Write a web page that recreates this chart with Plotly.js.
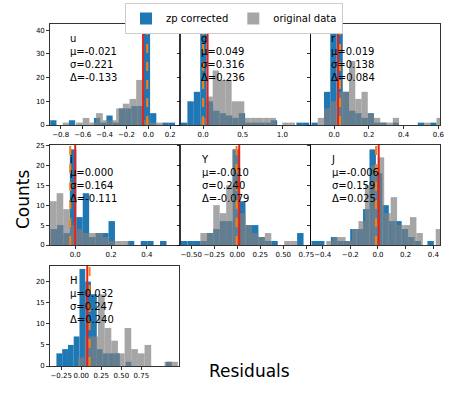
<!DOCTYPE html>
<html>
<head>
<meta charset="utf-8">
<script src="https://cdn.plot.ly/plotly-3.0.1.min.js"></script>
<style>
  body { margin: 0; background: #fff; }
  #plot { width: 449px; height: 399px; }
</style>
</head>
<body>
<div id="plot"></div>
<script>
// band labels and stats printed in each panel
const bands = ['u', 'g', 'r', 'i', 'Y', 'J', 'H'];
const mu    = ['-0.021', '0.049', '0.019', '0.000', '-0.010', '-0.006', '0.032'];
const sigma = ['0.221', '0.316', '0.138', '0.164', '0.240', '0.159', '0.247'];
const delta = ['-0.133', '0.236', '0.084', '-0.111', '-0.079', '0.025', '0.240'];

// histograms: [first bin edge, bin width, counts...]
const uZp   = [-0.896, 0.057, [2,0,0,2,0,0,0,3,1,4,1,7,7,8,8,40,5,0,1,1]];
const uOrig = [-0.782, 0.061, [1,0,1,3,1,5,2,2,7,9,11,19,2,1,1]];
const gZp   = [-0.28, 0.081, [1,10,14,41,10,6,5,4,3,5,1,1,1,1,2,0,0,0,1,1]];
const gOrig = [-0.04, 0.08, [3,12,23,19,19,10,10,3,3,3,3,3,0,1,1]];
const rZp   = [-0.13, 0.036, [1,0,14,39,40,14,6,5,3,5,1,1,0,1,0,0,0,1,0,1]];
const rOrig = [-0.094, 0.036, [3,7,10,14,14,27,11,14,5,3,1,1,3,0,0,0,0,1,0,3]];
const iZp   = [-0.138, 0.036, [4,5,3,24,7,13,2,3,3,6,0,0,1,0,1,1,0,1]];
const iOrig = [-0.141, 0.037, [11,13,9,5,4,3,3,3,2,1,1,1]];
const YZp   = [-0.61, 0.07, [1,1,1,1,3,4,6,6,24,11,5,5,2,1,1,0,0,0,3]];
const YOrig = [-0.4, 0.07, [3,3,10,8,15,24,8,5,3,2,3,0,0,1,1]];
const JZp   = [-0.48, 0.0465, [1,1,0,2,1,1,4,4,9,24,18,10,6,6,4,2,1,0,1]];
const JOrig = [-0.42, 0.0465, [0,1,2,2,1,4,6,15,20,22,8,12,5,5,7,3,0,0,4]];
const HZp   = [-0.31, 0.072, [3,4,5,7,23,20,17,4,3,3,3,0,1,0,0,0,0,0,0,1]];
const HOrig = [-0.04, 0.083, [2,7,7,17,9,6,3,9,4,3,5,0,0,1,1]];

// vertical marker lines (solid red, dashed orange)
const redLine    = [-0.048, 0.056, 0.023, 0.0, 0.022, 0.005, 0.075];
const orangeLine = [-0.01, 0.0, 0.034, -0.028, -0.007, -0.014, 0.104];

const zpSets = [uZp, gZp, rZp, iZp, YZp, JZp, HZp];
const origSets = [uOrig, gOrig, rOrig, iOrig, YOrig, JOrig, HOrig];

// layout of the grid, in pixels
const W = 449, H = 399;
const cols = [[50, 179], [181, 310], [311, 440]];
const rows = [[24, 125], [145, 245], [266, 366]];
const grid = [[0,0],[0,1],[0,2],[1,0],[1,1],[1,2],[2,0]];
const xRanges = [[-0.898,0.28],[-0.28,1.35],[-0.133,0.61],[-0.141,0.58],[-0.61,0.79],[-0.484,0.448],[-0.39,1.22]];
const xTicks = [
  [-0.8,-0.6,-0.4,-0.2,0,0.2], [0,0.5,1.0], [0,0.2,0.4,0.6],
  [0,0.2,0.4], [-0.5,-0.25,0,0.25,0.5,0.75], [-0.4,-0.2,0,0.2,0.4],
  [-0.25,0,0.25,0.5,0.75]
];
const xFmt = ['.1f','.1f','.1f','.1f','.2f','.1f','.2f'];
const yMax = [42.6, 25.1, 23.7];
const yTicks = [[0,10,20,30,40],[0,5,10,15,20,25],[0,5,10,15,20]];

function bars(set, k, color, name) {
  const [start, w, counts] = set;
  return {
    type: 'bar',
    x: counts.map((_, j) => start + w * (j + 0.5)),
    y: counts,
    width: w,
    marker: {color: color, line: {width: 0}},
    name: name,
    legendgroup: name,
    showlegend: k === 0,
    xaxis: 'x' + (k ? k + 1 : ''),
    yaxis: 'y' + (k ? k + 1 : ''),
    hoverinfo: 'skip'
  };
}

const data = [];
const layout = {
  width: W, height: H,
  margin: {l: 0, r: 0, t: 0, b: 0},
  paper_bgcolor: '#fff', plot_bgcolor: '#fff',
  barmode: 'overlay',
  font: {family: 'DejaVu Sans', size: 10, color: '#000'},
  legend: {
    orientation: 'h', x: 234 / W, xanchor: 'center', y: 1 - 3 / H, yanchor: 'top',
    bordercolor: '#cccccc', borderwidth: 1, font: {size: 10}, traceorder: 'normal'
  },
  shapes: [],
  annotations: []
};

bands.forEach((b, k) => {
  data.push(bars(zpSets[k], k, '#1f77b4', 'zp corrected'));
  data.push(bars(origSets[k], k, 'rgba(128,128,128,0.7)', 'original data'));

  const [r, c] = grid[k];
  const sfx = k ? k + 1 : '';
  const axBase = {
    showline: true, mirror: true, linecolor: '#000', linewidth: 0.8,
    showgrid: false, zeroline: false,
    ticks: 'outside', ticklen: 3, tickwidth: 0.8, tickcolor: '#000',
    tickfont: {size: 7, color: '#000'}, tickangle: 0
  };
  layout['xaxis' + sfx] = Object.assign({}, axBase, {
    domain: [cols[c][0] / W, cols[c][1] / W],
    range: xRanges[k], tickmode: 'array', tickvals: xTicks[k], tickformat: xFmt[k],
    anchor: 'y' + sfx
  });
  layout['yaxis' + sfx] = Object.assign({}, axBase, {
    domain: [1 - rows[r][1] / H, 1 - rows[r][0] / H],
    range: [0, yMax[r]], tickmode: 'array', tickvals: yTicks[r],
    showticklabels: c === 0,
    anchor: 'x' + sfx
  });

  layout.shapes.push({
    type: 'line', xref: 'x' + sfx, yref: 'y' + sfx + ' domain',
    x0: redLine[k], x1: redLine[k], y0: 0, y1: 1,
    line: {color: '#e8201a', width: 2}
  });
  layout.shapes.push({
    type: 'line', xref: 'x' + sfx, yref: 'y' + sfx + ' domain',
    x0: orangeLine[k], x1: orangeLine[k], y0: 0, y1: 1,
    line: {color: '#ff7f0e', width: 2, dash: 'dash'}
  });

  layout.annotations.push({
    xref: 'paper', yref: 'paper',
    x: (cols[c][0] + 18) / W, y: 1 - (rows[r][0] + 7) / H,
    xanchor: 'left', yanchor: 'top', align: 'left', showarrow: false,
    text: b + '<br>μ=' + mu[k] + '<br>σ=' + sigma[k] + '<br>Δ=' + delta[k],
    font: {size: 10, color: '#000'}
  });
});

layout.annotations.push({
  xref: 'paper', yref: 'paper', x: 11 / W, y: 1 - 200 / H,
  text: 'Counts', textangle: -90, showarrow: false, font: {size: 17}
});
layout.annotations.push({
  xref: 'paper', yref: 'paper', x: 249 / W, y: 1 - 383 / H,
  text: 'Residuals', showarrow: false, font: {size: 17}
});

Plotly.newPlot('plot', data, layout, {staticPlot: true});
</script>
</body>
</html>
